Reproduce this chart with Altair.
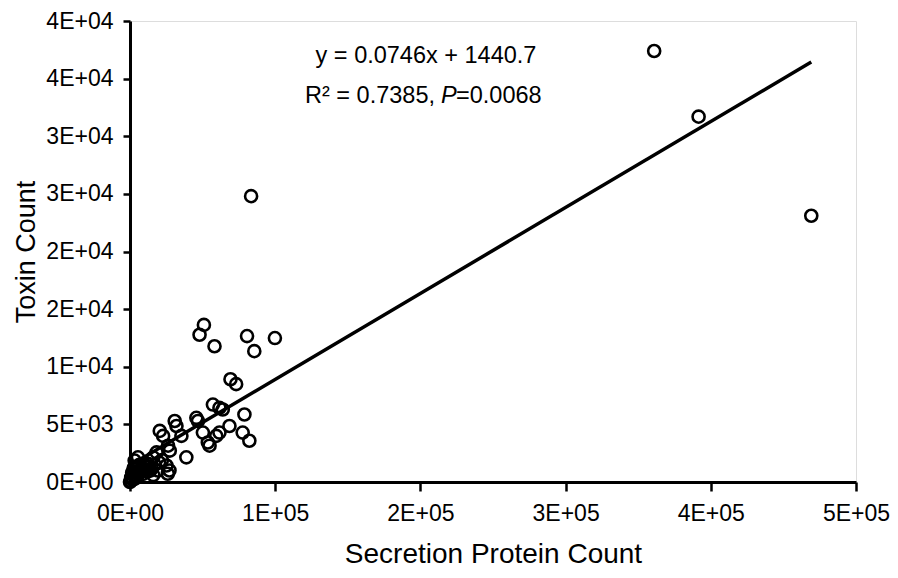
import altair as alt
import pandas as pd

# Scatter data (Secretion Protein Count, Toxin Count)
secretion = [
    361000, 391600, 469200, 83400,
    50900, 47900, 58200, 80600, 85600, 99800, 69200, 73100,
    57100, 61600, 63900, 78800, 45700, 46800, 30800, 32000, 35400, 20500,
    22800, 68500, 77600, 82200, 59400, 61600, 53600, 54800, 38800, 50200,
    26200, 27400, 18300, 25100, 16000, 27200, 26000, 19200, 12300, 5500, 3200,
    0, 500, 1000, 2000, 3000, 4000, 5000, 6000, 7000, 8000, 9000, 10000,
    11000, 12000, 13000, 14000, 15000, 2500, 1500, 6500, 4500, 9500, 800,
    3500, 17000, 20000, 16000, 22000,
]
toxin = [
    37400, 31700, 23100, 24800,
    13630, 12775, 11780, 12660, 11350, 12490, 8916, 8490,
    6720, 6430, 6290, 5860, 5570, 5290, 5290, 4860, 4000, 4430,
    4000, 4860, 4290, 3580, 4000, 4290, 3430, 3150, 2140, 4290,
    3150, 2720, 2570, 1430, 2140, 1000, 720, 1000, 1580, 2140, 1860,
    0, 100, 300, 200, 600, 800, 500, 1000, 900, 1200, 700, 1100,
    1400, 900, 1300, 1000, 1200, 1200, 800, 1500, 1300, 1600, 400,
    300, 1500, 1700, 600, 1900,
]

# Trendline from the chart's equation
slope = 0.0746
intercept = 1440.7

x_ticks = [0, 100000, 200000, 300000, 400000, 500000]
x_tick_labels = ["0E+00", "1E+05", "2E+05", "3E+05", "4E+05", "5E+05"]
y_ticks = [0, 5000, 10000, 15000, 20000, 25000, 30000, 35000, 40000]
y_tick_labels = ["0E+00", "5E+03", "1E+04", "2E+04", "2E+04", "3E+04", "3E+04", "4E+04", "4E+04"]

eq_text = "y = 0.0746x + 1440.7"
r2_text = "R² = 0.7385,"
p_letter = "P"
p_value = "=0.0068"

df = pd.DataFrame({"x": secretion, "y": toxin})
xmin, xmax = min(secretion), max(secretion)
line_df = pd.DataFrame({"x": [xmin, xmax], "y": [slope * xmin + intercept, slope * xmax + intercept]})

FONT = "Liberation Sans"

x_label_expr = "[" + ",".join(f"'{s}'" for s in x_tick_labels) + "][round(datum.value/100000)]"
y_label_expr = "[" + ",".join(f"'{s}'" for s in y_tick_labels) + "][round(datum.value/5000)]"

x_scale = alt.Scale(domain=[0, 500000], nice=False, zero=True)
y_scale = alt.Scale(domain=[0, 40000], nice=False, zero=True)

x_axis = alt.Axis(
    title="Secretion Protein Count", values=x_ticks, labelExpr=x_label_expr,
    grid=False, domainColor="black", domainWidth=3, tickColor="black", tickWidth=2.5,
    tickSize=9, labelPadding=11, labelFont=FONT, labelFontSize=23, labelColor="black",
    titleFont=FONT, titleFontSize=28, titleFontWeight="normal", titleColor="black",
    titlePadding=15, labelFlush=False, labelOverlap=False,
)
y_axis = alt.Axis(
    title="Toxin Count", values=y_ticks, labelExpr=y_label_expr,
    grid=False, domainColor="black", domainWidth=3, tickColor="black", tickWidth=2.5,
    tickSize=7, labelPadding=10, labelFont=FONT, labelFontSize=23, labelColor="black",
    titleFont=FONT, titleFontSize=27, titleFontWeight="normal", titleColor="black",
    titlePadding=5, labelFlush=False, labelOverlap=False,
)

points = alt.Chart(df).mark_point(
    shape="circle", filled=False, size=145, strokeWidth=2.6, color="black", opacity=1
).encode(
    x=alt.X("x:Q", scale=x_scale, axis=x_axis),
    y=alt.Y("y:Q", scale=y_scale, axis=y_axis),
)

trend = alt.Chart(line_df).mark_line(color="black", strokeWidth=3.5).encode(
    x=alt.X("x:Q", scale=x_scale),
    y=alt.Y("y:Q", scale=y_scale),
)

ann_df = pd.DataFrame({"t": [0]})
ANN = 23.5
eq = alt.Chart(ann_df).mark_text(
    text=eq_text, font=FONT, fontSize=ANN, align="center", baseline="alphabetic", color="black"
).encode(x=alt.value(296), y=alt.value(42))
r2 = alt.Chart(ann_df).mark_text(
    text=r2_text, font=FONT, fontSize=ANN, align="left", baseline="alphabetic", color="black"
).encode(x=alt.value(175), y=alt.value(82))
pl = alt.Chart(ann_df).mark_text(
    text=p_letter, font=FONT, fontSize=ANN, fontStyle="italic", align="left", baseline="alphabetic", color="black"
).encode(x=alt.value(311), y=alt.value(82))
pv = alt.Chart(ann_df).mark_text(
    text=p_value, font=FONT, fontSize=ANN, align="left", baseline="alphabetic", color="black"
).encode(x=alt.value(326), y=alt.value(82))

chart = alt.layer(points, trend, eq, r2, pl, pv).properties(
    width=726, height=461,
    autosize=alt.AutoSizeParams(type="none"),
    padding={"left": 122, "top": 13, "right": 34, "bottom": 86},
).configure_view(stroke=None).configure(background="white")

chart.save("out.html", embed_options={"renderer": "svg", "actions": False})
